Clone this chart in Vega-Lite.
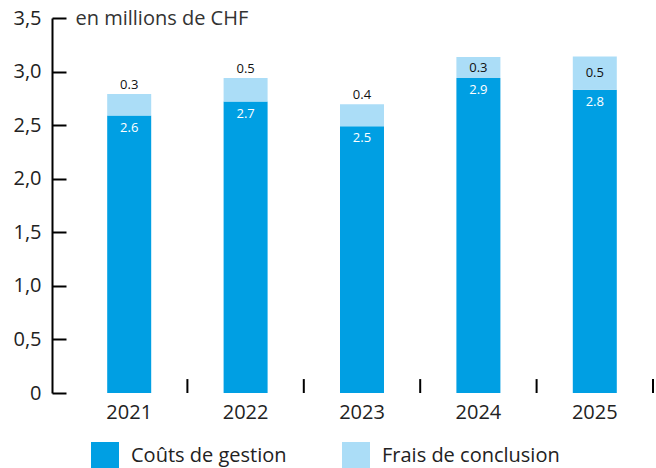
{
  "$schema": "https://vega.github.io/schema/vega-lite/v6.json",
  "width": 604,
  "height": 375,
  "autosize": "none",
  "padding": {"left": 52, "top": 18, "right": 0, "bottom": 75},
  "background": "white",
  "config": {
    "view": {"stroke": null},
    "font": "Open Sans",
    "axis": {"labelFont": "Open Sans", "titleFont": "Open Sans"},
    "legend": {"labelFont": "Open Sans"}
  },
  "data": {
    "values": [
      {"year": "2021", "type": "Coûts de gestion", "value": 2.59, "label": "2.6"},
      {"year": "2021", "type": "Frais de conclusion", "value": 0.2, "label": "0.3"},
      {"year": "2022", "type": "Coûts de gestion", "value": 2.72, "label": "2.7"},
      {"year": "2022", "type": "Frais de conclusion", "value": 0.22, "label": "0.5"},
      {"year": "2023", "type": "Coûts de gestion", "value": 2.49, "label": "2.5"},
      {"year": "2023", "type": "Frais de conclusion", "value": 0.205, "label": "0.4"},
      {"year": "2024", "type": "Coûts de gestion", "value": 2.94, "label": "2.9"},
      {"year": "2024", "type": "Frais de conclusion", "value": 0.195, "label": "0.3"},
      {"year": "2025", "type": "Coûts de gestion", "value": 2.83, "label": "2.8"},
      {"year": "2025", "type": "Frais de conclusion", "value": 0.31, "label": "0.5"}
    ]
  },
  "transform": [
    {"stack": "value", "groupby": ["year"], "sort": [{"field": "type", "order": "ascending"}], "as": ["v0", "v1"]},
    {"calculate": "(datum.v0 + datum.v1) / 2", "as": "mid"}
  ],
  "encoding": {
    "x": {
      "field": "year",
      "type": "nominal",
      "scale": {"type": "band", "range": [19, 601], "paddingInner": 0, "paddingOuter": 0},
      "axis": {
        "title": null,
        "domain": false,
        "ticks": false,
        "labelAngle": 0,
        "labelFontSize": 20,
        "labelColor": "#222",
        "labelPadding": 9
      }
    }
  },
  "layer": [
    {
      "mark": {"type": "bar", "width": {"band": 0.378}},
      "encoding": {
        "y": {
          "field": "v0",
          "type": "quantitative",
          "scale": {"domain": [0, 3.5], "nice": false},
          "axis": {
            "values": [0, 0.5, 1, 1.5, 2, 2.5, 3, 3.5],
            "labelExpr": "datum.value == 0 ? '0' : replace(format(datum.value, '.1f'), '.', ',')",
            "grid": false,
            "domainColor": "black",
            "domainWidth": 2,
            "tickColor": "black",
            "tickWidth": 2,
            "tickSize": -14,
            "labelFontSize": 20,
            "labelColor": "#222",
            "labelPadding": 25,
            "title": "en millions de CHF",
            "titleAngle": 0,
            "titleAlign": "left",
            "titleBaseline": "middle",
            "titleX": 23,
            "titleY": 0,
            "titleFontSize": 20,
            "titleFontWeight": "normal",
            "titleColor": "#333"
          }
        },
        "y2": {"field": "v1"},
        "color": {
          "field": "type",
          "type": "nominal",
          "scale": {"domain": ["Coûts de gestion", "Frais de conclusion"], "range": ["#009FE3", "#ABDDF7"]},
          "legend": {
            "title": null,
            "orient": "none",
            "direction": "horizontal",
            "legendX": 39,
            "legendY": 424,
            "symbolType": "square",
            "symbolSize": 784,
            "symbolStrokeWidth": 0,
            "labelFontSize": 20,
            "labelColor": "#222",
            "labelOffset": 12,
            "labelLimit": 400,
            "columnPadding": 55
          }
        }
      }
    },
    {
      "transform": [{"filter": "datum.type == 'Coûts de gestion'"}],
      "mark": {"type": "text", "color": "white", "fontSize": 13, "baseline": "middle", "dy": 12},
      "encoding": {"y": {"field": "v1", "type": "quantitative"}, "text": {"field": "label"}}
    },
    {
      "transform": [{"filter": "datum.type == 'Frais de conclusion' && (datum.year == '2021' || datum.year == '2022' || datum.year == '2023')"}],
      "mark": {"type": "text", "color": "#111", "fontSize": 13, "baseline": "middle", "dy": -9},
      "encoding": {"y": {"field": "v1", "type": "quantitative"}, "text": {"field": "label"}}
    },
    {
      "transform": [{"filter": "datum.type == 'Frais de conclusion' && (datum.year == '2024' || datum.year == '2025')"}],
      "mark": {"type": "text", "color": "#111", "fontSize": 13, "baseline": "middle"},
      "encoding": {"y": {"field": "mid", "type": "quantitative"}, "text": {"field": "label"}}
    },
    {
      "transform": [{"filter": "datum.type == 'Coûts de gestion' && datum.year != '2021'"}],
      "mark": {"type": "rule", "color": "black", "strokeWidth": 2},
      "encoding": {
        "x": {"field": "year", "type": "nominal", "bandPosition": 0},
        "y": {"datum": 0},
        "y2": {"datum": 0.13}
      }
    },
    {
      "transform": [{"filter": "datum.type == 'Coûts de gestion' && datum.year == '2025'"}],
      "mark": {"type": "rule", "color": "black", "strokeWidth": 2},
      "encoding": {
        "x": {"field": "year", "type": "nominal", "bandPosition": 1},
        "y": {"datum": 0},
        "y2": {"datum": 0.13}
      }
    },
    {
      "mark": {"type": "rule", "color": "black", "strokeWidth": 2},
      "encoding": {"y": {"datum": 0}}
    }
  ]
}
